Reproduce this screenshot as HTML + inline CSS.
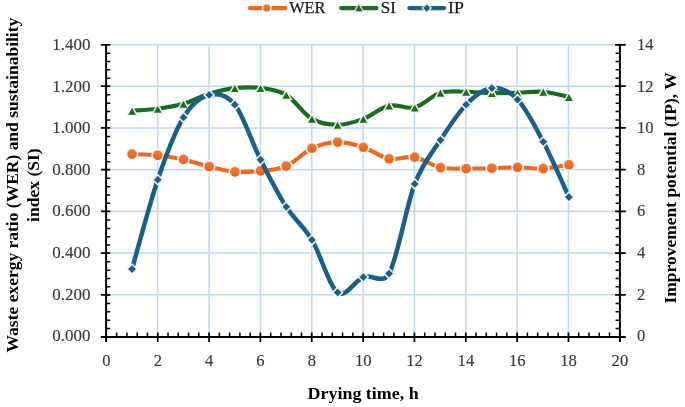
<!DOCTYPE html>
<html lang="en"><head><meta charset="utf-8"><title>Chart</title>
<style>html,body{margin:0;padding:0;background:#fff}svg{display:block}</style></head>
<body>
<svg width="685" height="407" viewBox="0 0 685 407">
<defs><linearGradient id="og" x1="0" y1="0" x2="0" y2="1"><stop offset="0" stop-color="#F07A3A"/><stop offset="1" stop-color="#E5631B"/></linearGradient></defs>
<rect width="685" height="407" fill="#fff"/>
<path d="M157.74 44.80 V336.90 M209.08 44.80 V336.90 M260.42 44.80 V336.90 M311.76 44.80 V336.90 M363.10 44.80 V336.90 M414.44 44.80 V336.90 M465.78 44.80 V336.90 M517.12 44.80 V336.90 M568.46 44.80 V336.90 M619.80 44.80 V336.90 M106.40 294.82 H619.80 M106.40 253.09 H619.80 M106.40 211.36 H619.80 M106.40 169.64 H619.80 M106.40 127.91 H619.80 M106.40 86.18 H619.80 M106.40 44.80 H619.80" stroke="#C0D6EF" stroke-width="1.5" fill="none"/>
<path d="M132.05 154.04 C136.33 154.24 149.18 154.35 157.75 155.25 C166.32 156.15 174.88 157.55 183.45 159.44 C192.02 161.33 200.58 164.53 209.15 166.60 C217.72 168.67 226.28 171.13 234.85 171.85 C243.42 172.57 251.98 171.88 260.55 170.91 C269.12 169.94 277.68 169.78 286.25 166.01 C294.82 162.24 303.38 152.26 311.95 148.28 C320.52 144.30 329.08 142.29 337.65 142.12 C346.22 141.95 354.78 144.50 363.35 147.28 C371.92 150.06 380.48 157.17 389.05 158.81 C397.62 160.45 406.18 155.66 414.75 157.12 C423.32 158.59 431.88 165.70 440.45 167.60 C449.02 169.50 457.58 168.42 466.15 168.52 C474.72 168.62 483.28 168.41 491.85 168.20 C500.42 167.99 508.98 167.23 517.55 167.28 C526.12 167.33 534.68 168.94 543.25 168.52 C551.82 168.10 564.67 165.40 568.95 164.77" fill="none" stroke="#E96B23" stroke-width="4.1" stroke-linecap="round" stroke-linejoin="round"/>
<circle cx="132.05" cy="154.04" r="4.8" fill="url(#og)" stroke="#F1F1F1" stroke-width="3.2" paint-order="stroke"/>
<circle cx="157.75" cy="155.25" r="4.8" fill="url(#og)" stroke="#F1F1F1" stroke-width="3.2" paint-order="stroke"/>
<circle cx="183.45" cy="159.44" r="4.8" fill="url(#og)" stroke="#F1F1F1" stroke-width="3.2" paint-order="stroke"/>
<circle cx="209.15" cy="166.60" r="4.8" fill="url(#og)" stroke="#F1F1F1" stroke-width="3.2" paint-order="stroke"/>
<circle cx="234.85" cy="171.85" r="4.8" fill="url(#og)" stroke="#F1F1F1" stroke-width="3.2" paint-order="stroke"/>
<circle cx="260.55" cy="170.91" r="4.8" fill="url(#og)" stroke="#F1F1F1" stroke-width="3.2" paint-order="stroke"/>
<circle cx="286.25" cy="166.01" r="4.8" fill="url(#og)" stroke="#F1F1F1" stroke-width="3.2" paint-order="stroke"/>
<circle cx="311.95" cy="148.28" r="4.8" fill="url(#og)" stroke="#F1F1F1" stroke-width="3.2" paint-order="stroke"/>
<circle cx="337.65" cy="142.12" r="4.8" fill="url(#og)" stroke="#F1F1F1" stroke-width="3.2" paint-order="stroke"/>
<circle cx="363.35" cy="147.28" r="4.8" fill="url(#og)" stroke="#F1F1F1" stroke-width="3.2" paint-order="stroke"/>
<circle cx="389.05" cy="158.81" r="4.8" fill="url(#og)" stroke="#F1F1F1" stroke-width="3.2" paint-order="stroke"/>
<circle cx="414.75" cy="157.12" r="4.8" fill="url(#og)" stroke="#F1F1F1" stroke-width="3.2" paint-order="stroke"/>
<circle cx="440.45" cy="167.60" r="4.8" fill="url(#og)" stroke="#F1F1F1" stroke-width="3.2" paint-order="stroke"/>
<circle cx="466.15" cy="168.52" r="4.8" fill="url(#og)" stroke="#F1F1F1" stroke-width="3.2" paint-order="stroke"/>
<circle cx="491.85" cy="168.20" r="4.8" fill="url(#og)" stroke="#F1F1F1" stroke-width="3.2" paint-order="stroke"/>
<circle cx="517.55" cy="167.28" r="4.8" fill="url(#og)" stroke="#F1F1F1" stroke-width="3.2" paint-order="stroke"/>
<circle cx="543.25" cy="168.52" r="4.8" fill="url(#og)" stroke="#F1F1F1" stroke-width="3.2" paint-order="stroke"/>
<circle cx="568.95" cy="164.77" r="4.8" fill="url(#og)" stroke="#F1F1F1" stroke-width="3.2" paint-order="stroke"/>
<path d="M132.05 110.73 C136.33 110.40 149.18 109.91 157.75 108.76 C166.32 107.61 174.88 106.34 183.45 103.85 C192.02 101.36 200.58 96.46 209.15 93.83 C217.72 91.20 226.28 89.04 234.85 88.08 C243.42 87.12 251.98 86.95 260.55 88.08 C269.12 89.21 277.68 89.74 286.25 94.87 C294.82 100.00 303.38 113.88 311.95 118.87 C320.52 123.86 329.08 124.83 337.65 124.83 C346.22 124.83 354.78 122.07 363.35 118.87 C371.92 115.67 380.48 107.52 389.05 105.61 C397.62 103.70 406.18 109.53 414.75 107.39 C423.32 105.25 431.88 95.40 440.45 92.79 C449.02 90.18 457.58 91.69 466.15 91.74 C474.72 91.79 483.28 92.92 491.85 93.09 C500.42 93.27 508.98 93.02 517.55 92.79 C526.12 92.56 534.68 91.05 543.25 91.74 C551.82 92.43 564.67 96.09 568.95 96.96" fill="none" stroke="#1C6B22" stroke-width="4.2" stroke-linecap="round" stroke-linejoin="round"/>
<path d="M132.05 107.73 l3.8 7 h-7.6 z" fill="#1C6B22" stroke="#F1F1F1" stroke-width="3" paint-order="stroke"/>
<path d="M157.75 105.76 l3.8 7 h-7.6 z" fill="#1C6B22" stroke="#F1F1F1" stroke-width="3" paint-order="stroke"/>
<path d="M183.45 100.85 l3.8 7 h-7.6 z" fill="#1C6B22" stroke="#F1F1F1" stroke-width="3" paint-order="stroke"/>
<path d="M209.15 90.83 l3.8 7 h-7.6 z" fill="#1C6B22" stroke="#F1F1F1" stroke-width="3" paint-order="stroke"/>
<path d="M234.85 85.08 l3.8 7 h-7.6 z" fill="#1C6B22" stroke="#F1F1F1" stroke-width="3" paint-order="stroke"/>
<path d="M260.55 85.08 l3.8 7 h-7.6 z" fill="#1C6B22" stroke="#F1F1F1" stroke-width="3" paint-order="stroke"/>
<path d="M286.25 91.87 l3.8 7 h-7.6 z" fill="#1C6B22" stroke="#F1F1F1" stroke-width="3" paint-order="stroke"/>
<path d="M311.95 115.87 l3.8 7 h-7.6 z" fill="#1C6B22" stroke="#F1F1F1" stroke-width="3" paint-order="stroke"/>
<path d="M337.65 121.83 l3.8 7 h-7.6 z" fill="#1C6B22" stroke="#F1F1F1" stroke-width="3" paint-order="stroke"/>
<path d="M363.35 115.87 l3.8 7 h-7.6 z" fill="#1C6B22" stroke="#F1F1F1" stroke-width="3" paint-order="stroke"/>
<path d="M389.05 102.61 l3.8 7 h-7.6 z" fill="#1C6B22" stroke="#F1F1F1" stroke-width="3" paint-order="stroke"/>
<path d="M414.75 104.39 l3.8 7 h-7.6 z" fill="#1C6B22" stroke="#F1F1F1" stroke-width="3" paint-order="stroke"/>
<path d="M440.45 89.79 l3.8 7 h-7.6 z" fill="#1C6B22" stroke="#F1F1F1" stroke-width="3" paint-order="stroke"/>
<path d="M466.15 88.74 l3.8 7 h-7.6 z" fill="#1C6B22" stroke="#F1F1F1" stroke-width="3" paint-order="stroke"/>
<path d="M491.85 90.09 l3.8 7 h-7.6 z" fill="#1C6B22" stroke="#F1F1F1" stroke-width="3" paint-order="stroke"/>
<path d="M517.55 89.79 l3.8 7 h-7.6 z" fill="#1C6B22" stroke="#F1F1F1" stroke-width="3" paint-order="stroke"/>
<path d="M543.25 88.74 l3.8 7 h-7.6 z" fill="#1C6B22" stroke="#F1F1F1" stroke-width="3" paint-order="stroke"/>
<path d="M568.95 93.96 l3.8 7 h-7.6 z" fill="#1C6B22" stroke="#F1F1F1" stroke-width="3" paint-order="stroke"/>
<path d="M132.05 269.09 C136.33 254.19 149.18 205.00 157.75 179.72 C166.32 154.44 174.88 131.51 183.45 117.39 C192.02 103.27 200.58 97.09 209.15 94.97 C217.72 92.85 226.32 93.89 234.85 104.65 C243.42 115.45 251.98 142.73 260.55 159.76 C269.12 176.79 277.68 193.49 286.25 206.84 C294.82 220.19 303.38 225.62 311.95 239.88 C320.52 254.14 329.08 286.18 337.65 292.38 C346.22 298.58 354.78 280.22 363.35 277.09 C371.92 273.96 382.79 284.96 389.05 273.61 C397.62 258.08 406.18 206.19 414.75 183.93 C423.32 161.68 431.88 153.28 440.45 140.08 C449.02 126.88 457.58 113.37 466.15 104.71 C474.72 96.05 483.28 88.97 491.85 88.11 C500.42 87.25 508.98 90.60 517.55 99.55 C526.12 108.50 534.68 125.56 543.25 141.82 C551.82 158.08 564.67 187.90 568.95 197.11" fill="none" stroke="#1B5F86" stroke-width="4.5" stroke-linecap="round" stroke-linejoin="round"/>
<path d="M132.05 265.19 l3.9 3.9 l-3.9 3.9 l-3.9 -3.9 z" fill="#1B5F86" stroke="#F1F1F1" stroke-width="3" paint-order="stroke"/>
<path d="M157.75 175.82 l3.9 3.9 l-3.9 3.9 l-3.9 -3.9 z" fill="#1B5F86" stroke="#F1F1F1" stroke-width="3" paint-order="stroke"/>
<path d="M183.45 113.49 l3.9 3.9 l-3.9 3.9 l-3.9 -3.9 z" fill="#1B5F86" stroke="#F1F1F1" stroke-width="3" paint-order="stroke"/>
<path d="M209.15 91.07 l3.9 3.9 l-3.9 3.9 l-3.9 -3.9 z" fill="#1B5F86" stroke="#F1F1F1" stroke-width="3" paint-order="stroke"/>
<path d="M234.85 100.75 l3.9 3.9 l-3.9 3.9 l-3.9 -3.9 z" fill="#1B5F86" stroke="#F1F1F1" stroke-width="3" paint-order="stroke"/>
<path d="M260.55 155.86 l3.9 3.9 l-3.9 3.9 l-3.9 -3.9 z" fill="#1B5F86" stroke="#F1F1F1" stroke-width="3" paint-order="stroke"/>
<path d="M286.25 202.94 l3.9 3.9 l-3.9 3.9 l-3.9 -3.9 z" fill="#1B5F86" stroke="#F1F1F1" stroke-width="3" paint-order="stroke"/>
<path d="M311.95 235.98 l3.9 3.9 l-3.9 3.9 l-3.9 -3.9 z" fill="#1B5F86" stroke="#F1F1F1" stroke-width="3" paint-order="stroke"/>
<path d="M337.65 288.48 l3.9 3.9 l-3.9 3.9 l-3.9 -3.9 z" fill="#1B5F86" stroke="#F1F1F1" stroke-width="3" paint-order="stroke"/>
<path d="M363.35 273.19 l3.9 3.9 l-3.9 3.9 l-3.9 -3.9 z" fill="#1B5F86" stroke="#F1F1F1" stroke-width="3" paint-order="stroke"/>
<path d="M389.05 269.71 l3.9 3.9 l-3.9 3.9 l-3.9 -3.9 z" fill="#1B5F86" stroke="#F1F1F1" stroke-width="3" paint-order="stroke"/>
<path d="M414.75 180.03 l3.9 3.9 l-3.9 3.9 l-3.9 -3.9 z" fill="#1B5F86" stroke="#F1F1F1" stroke-width="3" paint-order="stroke"/>
<path d="M440.45 136.18 l3.9 3.9 l-3.9 3.9 l-3.9 -3.9 z" fill="#1B5F86" stroke="#F1F1F1" stroke-width="3" paint-order="stroke"/>
<path d="M466.15 100.81 l3.9 3.9 l-3.9 3.9 l-3.9 -3.9 z" fill="#1B5F86" stroke="#F1F1F1" stroke-width="3" paint-order="stroke"/>
<path d="M491.85 84.21 l3.9 3.9 l-3.9 3.9 l-3.9 -3.9 z" fill="#1B5F86" stroke="#F1F1F1" stroke-width="3" paint-order="stroke"/>
<path d="M517.55 95.65 l3.9 3.9 l-3.9 3.9 l-3.9 -3.9 z" fill="#1B5F86" stroke="#F1F1F1" stroke-width="3" paint-order="stroke"/>
<path d="M543.25 137.92 l3.9 3.9 l-3.9 3.9 l-3.9 -3.9 z" fill="#1B5F86" stroke="#F1F1F1" stroke-width="3" paint-order="stroke"/>
<path d="M568.95 193.21 l3.9 3.9 l-3.9 3.9 l-3.9 -3.9 z" fill="#1B5F86" stroke="#F1F1F1" stroke-width="3" paint-order="stroke"/>
<path d="M106.10 44.00 V342.00 M619.90 44.00 V342.00 M100.90 336.90 H625.80" stroke="#000" stroke-width="2" fill="none"/>
<path d="M106.10 328.55 H110.30 M106.10 320.21 H110.30 M106.10 311.86 H110.30 M106.10 303.52 H110.30 M106.10 286.83 H110.30 M106.10 278.48 H110.30 M106.10 270.13 H110.30 M106.10 261.79 H110.30 M106.10 245.10 H110.30 M106.10 236.75 H110.30 M106.10 228.41 H110.30 M106.10 220.06 H110.30 M106.10 203.37 H110.30 M106.10 195.02 H110.30 M106.10 186.68 H110.30 M106.10 178.33 H110.30 M106.10 161.64 H110.30 M106.10 153.29 H110.30 M106.10 144.95 H110.30 M106.10 136.60 H110.30 M106.10 119.91 H110.30 M106.10 111.57 H110.30 M106.10 103.22 H110.30 M106.10 94.87 H110.30 M106.10 78.18 H110.30 M106.10 69.84 H110.30 M106.10 61.49 H110.30 M106.10 53.15 H110.30 M615.60 328.55 H619.90 M615.60 320.21 H619.90 M615.60 311.86 H619.90 M615.60 303.52 H619.90 M615.60 286.83 H619.90 M615.60 278.48 H619.90 M615.60 270.13 H619.90 M615.60 261.79 H619.90 M615.60 245.10 H619.90 M615.60 236.75 H619.90 M615.60 228.41 H619.90 M615.60 220.06 H619.90 M615.60 203.37 H619.90 M615.60 195.02 H619.90 M615.60 186.68 H619.90 M615.60 178.33 H619.90 M615.60 161.64 H619.90 M615.60 153.29 H619.90 M615.60 144.95 H619.90 M615.60 136.60 H619.90 M615.60 119.91 H619.90 M615.60 111.57 H619.90 M615.60 103.22 H619.90 M615.60 94.87 H619.90 M615.60 78.18 H619.90 M615.60 69.84 H619.90 M615.60 61.49 H619.90 M615.60 53.15 H619.90 M116.67 332.40 V336.90 M126.94 332.40 V336.90 M137.20 332.40 V336.90 M147.47 332.40 V336.90 M168.01 332.40 V336.90 M178.28 332.40 V336.90 M188.54 332.40 V336.90 M198.81 332.40 V336.90 M219.35 332.40 V336.90 M229.62 332.40 V336.90 M239.88 332.40 V336.90 M250.15 332.40 V336.90 M270.69 332.40 V336.90 M280.96 332.40 V336.90 M291.22 332.40 V336.90 M301.49 332.40 V336.90 M322.03 332.40 V336.90 M332.30 332.40 V336.90 M342.56 332.40 V336.90 M352.83 332.40 V336.90 M373.37 332.40 V336.90 M383.64 332.40 V336.90 M393.90 332.40 V336.90 M404.17 332.40 V336.90 M424.71 332.40 V336.90 M434.98 332.40 V336.90 M445.24 332.40 V336.90 M455.51 332.40 V336.90 M476.05 332.40 V336.90 M486.32 332.40 V336.90 M496.58 332.40 V336.90 M506.85 332.40 V336.90 M527.39 332.40 V336.90 M537.66 332.40 V336.90 M547.92 332.40 V336.90 M558.19 332.40 V336.90 M578.73 332.40 V336.90 M589.00 332.40 V336.90 M599.26 332.40 V336.90 M609.53 332.40 V336.90" stroke="#000" stroke-width="1.5" fill="none"/>
<path d="M100.90 294.82 H110.30 M100.90 253.09 H110.30 M100.90 211.36 H110.30 M100.90 169.64 H110.30 M100.90 127.91 H110.30 M100.90 86.18 H110.30 M100.90 44.80 H110.30 M615.10 294.82 H625.80 M615.10 253.09 H625.80 M615.10 211.36 H625.80 M615.10 169.64 H625.80 M615.10 127.91 H625.80 M615.10 86.18 H625.80 M615.10 44.80 H625.80 M157.74 332.40 V342.00 M209.08 332.40 V342.00 M260.42 332.40 V342.00 M311.76 332.40 V342.00 M363.10 332.40 V342.00 M414.44 332.40 V342.00 M465.78 332.40 V342.00 M517.12 332.40 V342.00 M568.46 332.40 V342.00" stroke="#000" stroke-width="1.75" fill="none"/>
<g font-family="'Liberation Serif', serif" font-size="17.5" fill="#383838" stroke="#383838" stroke-width="0.15">
<text x="52.2" y="341.35" textLength="38.2" lengthAdjust="spacingAndGlyphs">0.000</text>
<text x="52.2" y="299.73" textLength="38.2" lengthAdjust="spacingAndGlyphs">0.200</text>
<text x="52.2" y="258.11" textLength="38.2" lengthAdjust="spacingAndGlyphs">0.400</text>
<text x="52.2" y="216.49" textLength="38.2" lengthAdjust="spacingAndGlyphs">0.600</text>
<text x="52.2" y="174.87" textLength="38.2" lengthAdjust="spacingAndGlyphs">0.800</text>
<text x="52.2" y="133.25" textLength="38.2" lengthAdjust="spacingAndGlyphs">1.000</text>
<text x="52.2" y="91.63" textLength="38.2" lengthAdjust="spacingAndGlyphs">1.200</text>
<text x="52.2" y="50.01" textLength="38.2" lengthAdjust="spacingAndGlyphs">1.400</text>
<text x="637.0" y="341.35" textLength="8.3" lengthAdjust="spacingAndGlyphs">0</text>
<text x="637.0" y="299.73" textLength="8.3" lengthAdjust="spacingAndGlyphs">2</text>
<text x="637.0" y="258.11" textLength="8.3" lengthAdjust="spacingAndGlyphs">4</text>
<text x="637.0" y="216.49" textLength="8.3" lengthAdjust="spacingAndGlyphs">6</text>
<text x="637.0" y="174.87" textLength="8.3" lengthAdjust="spacingAndGlyphs">8</text>
<text x="637.0" y="133.25" textLength="16.6" lengthAdjust="spacingAndGlyphs">10</text>
<text x="637.0" y="91.63" textLength="16.6" lengthAdjust="spacingAndGlyphs">12</text>
<text x="637.0" y="50.01" textLength="16.6" lengthAdjust="spacingAndGlyphs">14</text>
<text x="102.35" y="365.5" textLength="8.3" lengthAdjust="spacingAndGlyphs">0</text>
<text x="153.69" y="365.5" textLength="8.3" lengthAdjust="spacingAndGlyphs">2</text>
<text x="205.03" y="365.5" textLength="8.3" lengthAdjust="spacingAndGlyphs">4</text>
<text x="256.37" y="365.5" textLength="8.3" lengthAdjust="spacingAndGlyphs">6</text>
<text x="307.71" y="365.5" textLength="8.3" lengthAdjust="spacingAndGlyphs">8</text>
<text x="354.90" y="365.5" textLength="16.6" lengthAdjust="spacingAndGlyphs">10</text>
<text x="406.24" y="365.5" textLength="16.6" lengthAdjust="spacingAndGlyphs">12</text>
<text x="457.58" y="365.5" textLength="16.6" lengthAdjust="spacingAndGlyphs">14</text>
<text x="508.92" y="365.5" textLength="16.6" lengthAdjust="spacingAndGlyphs">16</text>
<text x="560.26" y="365.5" textLength="16.6" lengthAdjust="spacingAndGlyphs">18</text>
<text x="611.60" y="365.5" textLength="16.6" lengthAdjust="spacingAndGlyphs">20</text>
</g>
<g>
<path d="M249.9 8.1 H285.3" stroke="#E96B23" stroke-width="4.1" stroke-linecap="round"/>
<circle cx="266.8" cy="8.1" r="3.5" fill="url(#og)" stroke="#F1F1F1" stroke-width="2.8" paint-order="stroke"/>
<path d="M341.2 8.1 H376.6" stroke="#1C6B22" stroke-width="4.1" stroke-linecap="round"/>
<path d="M358.9 4.4 l3.6 6.8 h-7.2 z" fill="#1C6B22" stroke="#F1F1F1" stroke-width="2.4" paint-order="stroke"/>
<path d="M409.3 8.1 H444.1" stroke="#1B5F86" stroke-width="4.1" stroke-linecap="round"/>
<path d="M426.7 4.4 l3.7 3.7 l-3.7 3.7 l-3.7 -3.7 z" fill="#1B5F86" stroke="#F1F1F1" stroke-width="2.4" paint-order="stroke"/>
<g font-family="'Liberation Serif', serif" font-size="16.4" fill="#1a1a1a" stroke="#1a1a1a" stroke-width="0.25">
<text x="289.2" y="12.9" textLength="36.3" lengthAdjust="spacingAndGlyphs">WER</text>
<text x="380.7" y="12.9" textLength="15.1" lengthAdjust="spacingAndGlyphs">SI</text>
<text x="448.1" y="12.9" textLength="15.8" lengthAdjust="spacingAndGlyphs">IP</text>
</g></g>
<g font-family="'Liberation Serif', serif" font-size="17" font-weight="bold" fill="#000">
<text x="307.6" y="399.1" textLength="111" lengthAdjust="spacingAndGlyphs">Drying time, h</text>
<text transform="translate(18.2 352.4) rotate(-90)" textLength="334.7" lengthAdjust="spacingAndGlyphs">Waste exergy ratio (WER) and sustainability</text>
<text transform="translate(39.4 221.9) rotate(-90)" textLength="73.6" lengthAdjust="spacingAndGlyphs">index (SI)</text>
<text transform="translate(675.7 303.5) rotate(-90)" textLength="231.2" lengthAdjust="spacingAndGlyphs">Improvement potential (IP), W</text>
</g>
</svg>
</body></html>
